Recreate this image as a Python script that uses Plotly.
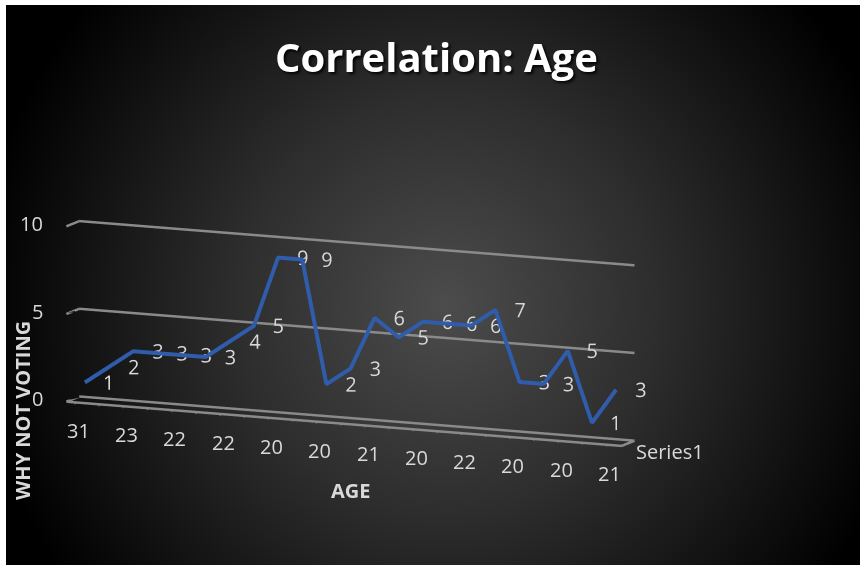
import base64
import plotly.graph_objects as go

# ---- data ----
ages = ["31", "", "23", "", "22", "", "22", "", "20", "", "20", "",
        "21", "", "20", "", "22", "", "20", "", "20", "", "21"]
why_not_voting = [1, 2, 3, 3, 3, 3, 4, 5, 9, 9, 2, 3, 6, 5, 6, 6, 6, 7, 3, 3, 5, 1, 3]
series_name = "Series1"
z_ticks = [0, 5, 10]

idx = list(range(len(why_not_voting)))
x_range = [-0.5, len(idx) - 0.5]
y_range = [0, 1]
z_range = [0, 10]
series_depth = sum(y_range) / 2
depth = [series_depth] * len(idx)

# background radial gradient (as an svg image)
W, H = 854, 560
svg = f"""<svg xmlns='http://www.w3.org/2000/svg' width='{W}' height='{H}'>
<defs><radialGradient id='g' gradientUnits='userSpaceOnUse' cx='440' cy='300' r='470'>
<stop offset='0' stop-color='#4c4c4c'/><stop offset='0.45' stop-color='#2d2d2d'/>
<stop offset='1' stop-color='#000000'/></radialGradient></defs>
<rect width='{W}' height='{H}' fill='url(#g)'/></svg>"""
src = "data:image/svg+xml;base64," + base64.b64encode(svg.encode()).decode()

GRID = "#8a8a8a"
TXT = "#d9d9d9"
FONT = "Open Sans"

fig = go.Figure()

# wall gridlines (back wall + left wall) and floor outline, built from the axis ranges
gx, gy, gz = [], [], []
x0, x1 = x_range
y0, y1 = y_range
for t in z_ticks:
    gx += [x0, x0, x1, None]
    gy += [y0, y1, y1, None]
    gz += [t, t, t, None]
gx += [x0, x1, x1, None]
gy += [y0, y0, y1, None]
gz += [z_range[0], z_range[0], z_range[0], None]
fig.add_trace(go.Scatter3d(x=gx, y=gy, z=gz, mode="lines",
                           line=dict(color=GRID, width=5),
                           showlegend=False, hoverinfo="skip"))

fig.add_trace(go.Scatter3d(
    x=idx, y=depth, z=why_not_voting,
    mode="lines+text",
    line=dict(color="#2f5cab", width=8),
    text=[str(v) for v in why_not_voting],
    textposition="middle right",
    textfont=dict(family=FONT, size=20, color=TXT),
    name=series_name, showlegend=False, hoverinfo="skip",
))

# axis labels placed through the scene's own coordinates
scene_ann = []
for i, lab in zip(idx, ages):
    if lab:
        scene_ann.append(dict(x=i, y=y_range[0], z=z_range[0], text=lab, showarrow=False,
                              yshift=-29, font=dict(family=FONT, size=20, color=TXT)))
for t in z_ticks:
    scene_ann.append(dict(x=x_range[0], y=y_range[0], z=t, text=str(t), showarrow=False,
                          xanchor="right", xshift=-21, yshift=2,
                          font=dict(family=FONT, size=20, color=TXT)))
scene_ann.append(dict(x=x_range[1], y=series_depth, z=z_range[0], text=series_name,
                      showarrow=False, xanchor="left", xshift=6, yshift=-9,
                      font=dict(family=FONT, size=20, color=TXT)))

eye_dir = (0.400, -0.899, 0.179)
k = 3.0
axis_common = dict(showbackground=False, zeroline=False, showspikes=False,
                   showticklabels=False, title=dict(text=""), showgrid=False)
fig.update_layout(
    width=860, height=565,
    margin=dict(l=0, r=0, t=0, b=0),
    paper_bgcolor="white",
    images=[dict(source=src, xref="paper", yref="paper", x=6/860, y=1-5/565,
                 sizex=854/860, sizey=560/565, sizing="stretch", layer="below",
                 xanchor="left", yanchor="top")],
    scene=dict(
        domain=dict(x=[0.0, 0.815], y=[0.007, 0.815]),
        bgcolor="rgba(0,0,0,0)",
        aspectmode="manual",
        aspectratio=dict(x=2.66, y=0.14, z=0.78),
        camera=dict(eye=dict(x=eye_dir[0]*k, y=eye_dir[1]*k, z=eye_dir[2]*k),
                    up=dict(x=0, y=0, z=1), center=dict(x=0, y=0, z=0),
                    projection=dict(type="orthographic")),
        xaxis=dict(range=x_range, tickmode="array", tickvals=idx,
                   showline=True, linecolor=GRID, linewidth=2,
                   ticks="outside", ticklen=8, tickcolor=GRID, tickwidth=2, **axis_common),
        yaxis=dict(range=y_range, showline=False, tickmode="array", tickvals=[series_depth],
                   **axis_common),
        zaxis=dict(range=z_range, tickmode="array", tickvals=z_ticks,
                   showline=False, **axis_common),
        annotations=scene_ann,
    ),
    annotations=[
        dict(text="<b>Correlation: Age</b>", xref="paper", yref="paper",
             x=436/860, y=1-57/565, xanchor="center", yanchor="middle", showarrow=False,
             font=dict(family=FONT, size=40, color="white",
                       shadow="2px 2px 3px rgba(0,0,0,0.9)")),
        dict(text="<b>WHY NOT VOTING</b>", xref="paper", yref="paper", textangle=-90,
             x=22/860, y=1-411/565, xanchor="center", yanchor="middle", showarrow=False,
             font=dict(family=FONT, size=20, color=TXT)),
        dict(text="<b>AGE</b>", xref="paper", yref="paper",
             x=350/860, y=1-490/565, xanchor="center", yanchor="middle", showarrow=False,
             font=dict(family=FONT, size=20, color=TXT)),
    ],
)

fig.write_html("out.html", config={"displayModeBar": False},
               post_script="document.body.style.margin='0px';")
